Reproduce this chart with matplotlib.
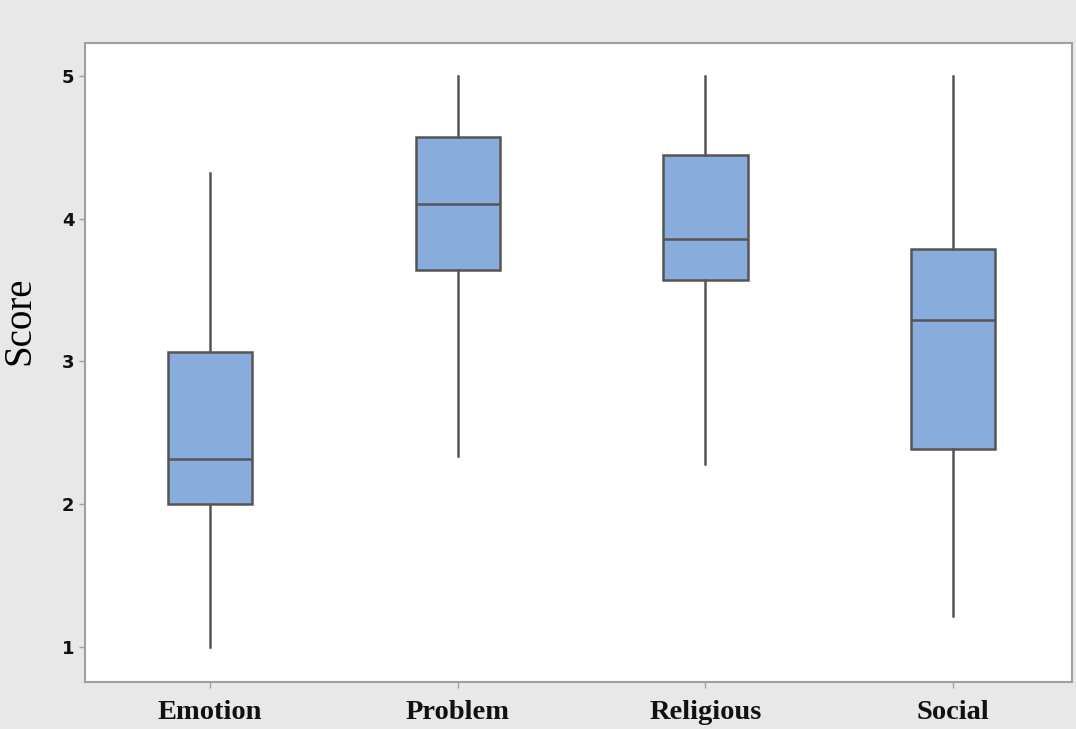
import numpy as np
import matplotlib.pyplot as plt

categorias = ['Emotion', 'Problem', 'Religious', 'Social']
minimos = [1.00, 2.34, 2.28, 1.22]
q1 = [2.00, 3.64, 3.57, 2.39]
medianas = [2.32, 4.10, 3.86, 3.29]
q3 = [3.07, 4.57, 4.45, 3.79]
maximos = [4.32, 5.00, 5.00, 5.00]

stats = []
for i in range(len(categorias)):
    stats.append({'label': categorias[i], 'whislo': minimos[i], 'q1': q1[i],
                  'med': medianas[i], 'q3': q3[i], 'whishi': maximos[i],
                  'fliers': []})

fig = plt.figure(figsize=(10.76, 7.29), dpi=100, facecolor='#e8e8e8')
ax = fig.add_axes([0.079, 0.0645, 0.9173, 0.8765])
ax.set_facecolor('white')

borde = '#555555'
ax.bxp(stats, positions=[1, 2, 3, 4], widths=0.34, patch_artist=True, showcaps=False,
       showfliers=False,
       boxprops=dict(facecolor='#88addc', edgecolor=borde, linewidth=1.8),
       medianprops=dict(color=borde, linewidth=1.8),
       whiskerprops=dict(color=borde, linewidth=1.8))

ax.set_xlim(0.495, 4.48)
ax.set_ylim(0.755, 5.231)
ax.set_yticks([1, 2, 3, 4, 5])
ax.set_yticklabels(['1', '2', '3', '4', '5'], fontsize=13, fontweight='bold',
                   family='DejaVu Sans', color='#222222')
ax.set_xticks([1, 2, 3, 4])
ax.set_xticklabels(categorias, fontsize=20.5, fontweight='bold',
                   family='Liberation Serif', color='#111111')
ax.set_ylabel('Score', fontsize=28, family='Liberation Serif')
ax.yaxis.set_label_coords(-0.047, 0.566)

for lado in ['left', 'bottom', 'top', 'right']:
    ax.spines[lado].set_color('#a0a0a0')
    ax.spines[lado].set_linewidth(1.5)
ax.tick_params(axis='both', colors='#a0a0a0', length=4, width=1)
for t in ax.get_xticklabels() + ax.get_yticklabels():
    t.set_color('#111111')
ax.tick_params(axis='x', pad=9)

plt.savefig('out.png', dpi=100, facecolor=fig.get_facecolor())
